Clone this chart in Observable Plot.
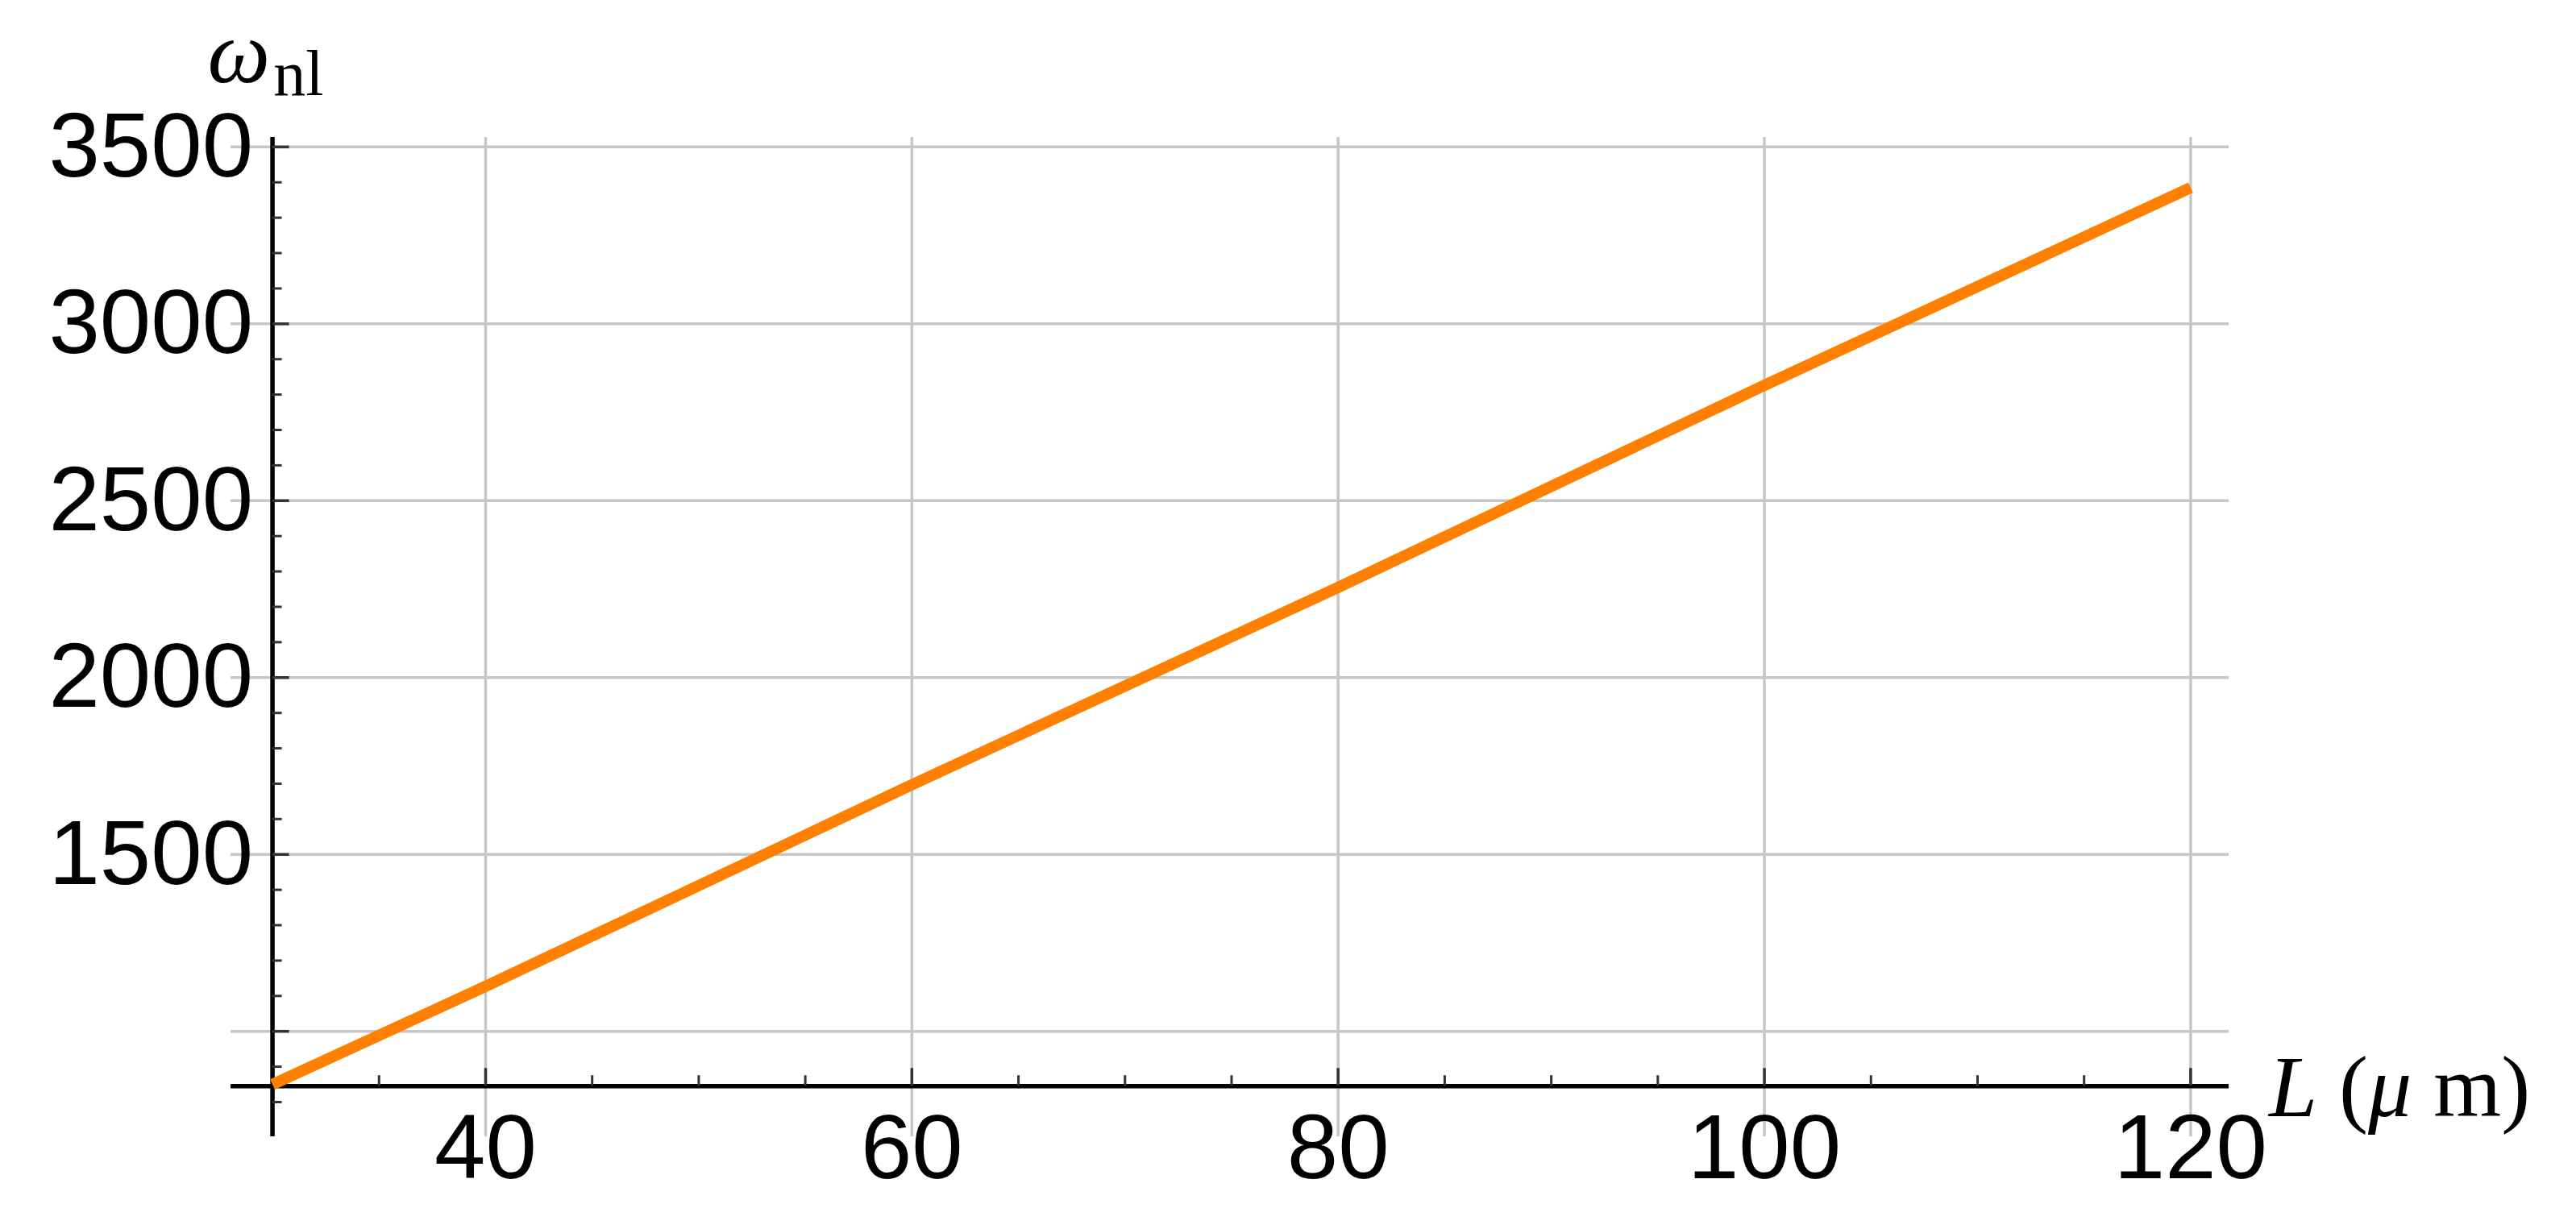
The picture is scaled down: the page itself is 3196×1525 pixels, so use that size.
<!DOCTYPE html>
<html>
<head>
<meta charset="utf-8">
<script src="https://cdn.jsdelivr.net/npm/d3@7"></script>
<script src="https://cdn.jsdelivr.net/npm/@observablehq/plot@0.6"></script>
<style>
  html, body { margin: 0; padding: 0; background: #fff; }
  #chart svg { display: block; }
</style>
</head>
<body>
<div id="chart"></div>
<script>
// ---- data ----
const L = [30, 40, 60, 80, 100, 120];                 // L (μm)
const omegaNl = [850, 1127, 1697, 2255, 2826, 3385];  // ω_nl

const xTickLabels = [40, 60, 80, 100, 120];
const xMinorTicks = [35, 45, 50, 55, 65, 70, 75, 85, 90, 95, 105, 110, 115];
const yTickLabels = [1500, 2000, 2500, 3000, 3500];
const yMajorTicks = [1000, 1500, 2000, 2500, 3000, 3500];
const yMinorTicks = [800, 900, 1100, 1200, 1300, 1400, 1600, 1700, 1800, 1900,
                     2100, 2200, 2300, 2400, 2600, 2700, 2800, 2900,
                     3100, 3200, 3300, 3400];
const xDomain = [28.05, 121.8];
const yDomain = [702, 3527];
const axisOrigin = {x: 30, y: 845};

const table = L.map((l, i) => ({L: l, w: omegaNl[i]}));

const W = 3196, H = 1525;
const gridColor = "#c6c6c6";
const tickColor = "#333";
const sans = "'Liberation Sans', Arial, sans-serif";
const serif = "'Liberation Serif', 'Times New Roman', serif";

const plot = Plot.plot({
  width: W,
  height: H,
  marginLeft: 286,
  marginRight: 431,
  marginTop: 170,
  marginBottom: 115,
  style: {background: "#fff", overflow: "visible"},
  x: {domain: xDomain, axis: null},
  y: {domain: yDomain, axis: null},
  marks: [
    // grid
    Plot.ruleX(xTickLabels, {x: d => d, stroke: gridColor, strokeWidth: 3.5}),
    Plot.ruleY(yMajorTicks, {y: d => d, stroke: gridColor, strokeWidth: 3.5}),
    // axes lines
    Plot.ruleY([axisOrigin.y], {y: d => d, stroke: "#000", strokeWidth: 5.5}),
    Plot.ruleX([axisOrigin.x], {x: d => d, stroke: "#000", strokeWidth: 5.5}),
    // x ticks (pointing up)
    Plot.ruleX(xTickLabels, {x: d => d, y1: () => axisOrigin.y, y2: () => axisOrigin.y,
      insetTop: -22, stroke: tickColor, strokeWidth: 3.5}),
    Plot.ruleX(xMinorTicks, {x: d => d, y1: () => axisOrigin.y, y2: () => axisOrigin.y,
      insetTop: -13, stroke: tickColor, strokeWidth: 3}),
    // y ticks (pointing right)
    Plot.ruleY(yMajorTicks, {y: d => d, x1: () => axisOrigin.x, x2: () => axisOrigin.x,
      insetRight: -21, stroke: tickColor, strokeWidth: 3.5}),
    Plot.ruleY(yMinorTicks, {y: d => d, x1: () => axisOrigin.x, x2: () => axisOrigin.x,
      insetRight: -12, stroke: tickColor, strokeWidth: 3}),
    // data
    Plot.line(table, {x: "L", y: "w", stroke: "#ff8000", strokeWidth: 14, strokeLinecap: "butt"}),
    // tick labels
    Plot.text(xTickLabels, {x: d => d, y: () => axisOrigin.y, text: d => String(d),
      dy: 33, lineAnchor: "top", textAnchor: "middle",
      fontSize: 114, fontFamily: sans, fill: "#000"}),
    Plot.text(yTickLabels, {x: () => axisOrigin.x, y: d => d, text: d => String(d),
      dx: -24, lineAnchor: "middle", textAnchor: "end",
      fontSize: 114, fontFamily: sans, fill: "#000"})
  ]
});

document.getElementById("chart").appendChild(plot);

// axis titles with mixed styling
const svg = d3.select(plot);
const xs = plot.scale("x"), ys = plot.scale("y");
const ox = xs.apply(axisOrigin.x), oy = ys.apply(axisOrigin.y);
const frameTop = ys.apply(yDomain[1]);
const frameRight = xs.apply(xDomain[1]);

const yTitle = svg.append("text")
  .attr("x", ox - 80)
  .attr("y", frameTop - 68)
  .attr("text-anchor", "start")
  .attr("font-family", serif)
  .attr("font-size", 110)
  .attr("fill", "#000");
yTitle.append("tspan").attr("font-style", "italic").text("ω");
yTitle.append("tspan").attr("font-size", 80).attr("dx", 4).attr("dy", 16).text("nl");

const xTitle = svg.append("text")
  .attr("x", frameRight + 50)
  .attr("y", oy + 38)
  .attr("text-anchor", "start")
  .attr("font-family", serif)
  .attr("font-size", 108)
  .attr("fill", "#000");
xTitle.append("tspan").attr("font-style", "italic").text("L");
xTitle.append("tspan").text(" (");
xTitle.append("tspan").attr("font-style", "italic").text("μ");
xTitle.append("tspan").text(" m)");
</script>
</body>
</html>
